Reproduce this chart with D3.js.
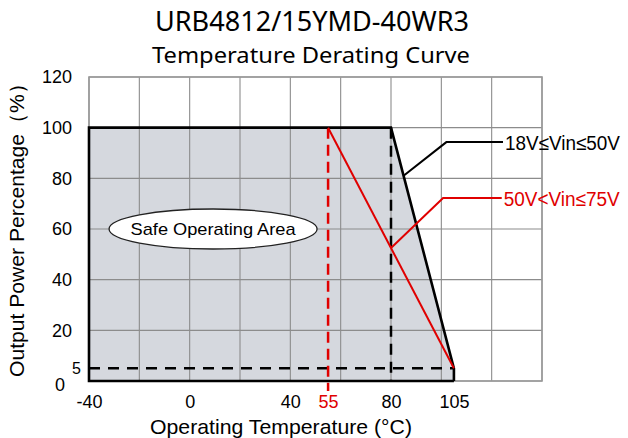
<!DOCTYPE html>
<html>
<head>
<meta charset="utf-8">
<script src="https://cdn.jsdelivr.net/npm/d3@7"></script>
<style>
  body { margin: 0; background: #fff; }
  text { font-family: "Liberation Sans", Arial, sans-serif; }
  .title { font-family: "Noto Sans", sans-serif; }
</style>
</head>
<body>
<div id="chart"></div>
<script>
// data
var titleText = "URB4812/15YMD-40WR3"
var subtitleText = "Temperature Derating Curve"
var xTicks = [-40, 0, 40, 55, 80, 105]
var yTicks = [0, 5, 20, 40, 60, 80, 100, 120]
var gridX = [-40, -20, 0, 20, 40, 60, 80, 100, 120, 140]
var gridY = [0, 20, 40, 60, 80, 100, 120]
// 18V<=Vin<=50V curve
var curveLow = [[-40, 100], [80, 100], [105, 5]]
// 50V<Vin<=75V curve
var curveHigh = [[55, 100], [105, 5]]
var safeArea = [[-40, 0], [-40, 100], [80, 100], [105, 5], [105, 0]]
var minPower = 5
var kneeLow = 80, kneeHigh = 55, maxTemp = 105
var leaderLow = [[85, 81], [102, 94.3], [124.5, 94.3]]
var leaderHigh = [[80, 52.5], [100.7, 72.2], [124, 72.2]]
var labelLow = "18V\u2264Vin\u226450V"
var labelHigh = "50V<Vin\u226475V"
var safeLabel = {t: 9.3, p: 60, text: "Safe Operating Area"}

var W = 628, H = 438
var x = d3.scaleLinear().domain([-40, 140]).range([89, 542])
var y = d3.scaleLinear().domain([0, 120]).range([381, 77])

var svg = d3.select("#chart").append("svg")
    .attr("width", W)
    .attr("height", H)

var line = d3.line().x(d => x(d[0])).y(d => y(d[1]))

// titles
svg.append("text").attr("class", "title")
  .attr("x", 312).attr("y", 31)
  .attr("text-anchor", "middle")
  .attr("font-size", 28)
  .attr("textLength", 314).attr("lengthAdjust", "spacingAndGlyphs")
  .text(titleText)
svg.append("text").attr("class", "title")
  .attr("x", 311).attr("y", 63)
  .attr("text-anchor", "middle")
  .attr("font-size", 22)
  .attr("textLength", 318).attr("lengthAdjust", "spacingAndGlyphs")
  .text(subtitleText)

// shaded safe area
svg.append("path")
  .attr("d", line(safeArea) + "Z")
  .attr("fill", "#d5d8de")

// grid
svg.selectAll(".gx").data(gridX).enter().append("line")
  .attr("class", "gx")
  .attr("x1", d => x(d)).attr("x2", d => x(d))
  .attr("y1", y(0)).attr("y2", y(120))
  .attr("stroke", "#8c8c8c").attr("stroke-width", 1.1)
svg.selectAll(".gy").data(gridY).enter().append("line")
  .attr("class", "gy")
  .attr("y1", d => y(d)).attr("y2", d => y(d))
  .attr("x1", x(-40)).attr("x2", x(140))
  .attr("stroke", "#8c8c8c").attr("stroke-width", 1.1)

// outer border
svg.append("rect")
  .attr("x", x(-40)).attr("y", y(120))
  .attr("width", x(140) - x(-40)).attr("height", y(0) - y(120))
  .attr("fill", "none").attr("stroke", "#9a9a9a").attr("stroke-width", 1.6)

// dashed reference lines
svg.append("line")
  .attr("x1", x(-40)).attr("x2", x(maxTemp))
  .attr("y1", y(minPower)).attr("y2", y(minPower))
  .attr("stroke", "#000").attr("stroke-width", 2.5)
  .attr("stroke-dasharray", "11,8")
svg.append("line")
  .attr("x1", x(kneeLow)).attr("x2", x(kneeLow))
  .attr("y1", y(100)).attr("y2", y(0))
  .attr("stroke", "#000").attr("stroke-width", 2.5)
  .attr("stroke-dasharray", "11,7")
svg.append("line")
  .attr("x1", x(kneeHigh)).attr("x2", x(kneeHigh))
  .attr("y1", y(100)).attr("y2", y(0) + 10)
  .attr("stroke", "#e00000").attr("stroke-width", 2.5)
  .attr("stroke-dasharray", "11,6")

// outline of 18-50V curve and bottom
svg.append("path")
  .attr("d", line([[105, 0], [-40, 0], [-40, 100]].concat(curveLow.slice(1)).concat([[105, 0]])))
  .attr("fill", "none").attr("stroke", "#000").attr("stroke-width", 2.6)
  .attr("stroke-linejoin", "miter")

// 50-75V curve
svg.append("path")
  .attr("d", line(curveHigh))
  .attr("fill", "none").attr("stroke", "#e00000").attr("stroke-width", 2)

// leaders
svg.append("path").attr("d", line(leaderLow))
  .attr("fill", "none").attr("stroke", "#000").attr("stroke-width", 2)
svg.append("path").attr("d", line(leaderHigh))
  .attr("fill", "none").attr("stroke", "#e00000").attr("stroke-width", 2)

svg.append("text")
  .attr("x", x(leaderLow[2][0]) + 2).attr("y", y(leaderLow[2][1]) + 8)
  .attr("font-size", 20).attr("fill", "#000")
  .attr("textLength", 115).attr("lengthAdjust", "spacingAndGlyphs")
  .attr("font-family", "Noto Sans, sans-serif")
  .text(labelLow)
svg.append("text")
  .attr("x", x(leaderHigh[2][0]) + 2).attr("y", y(leaderHigh[2][1]) + 8)
  .attr("font-size", 20).attr("fill", "#e00000")
  .attr("textLength", 116).attr("lengthAdjust", "spacingAndGlyphs")
  .attr("font-family", "Noto Sans, sans-serif")
  .text(labelHigh)

// safe operating area label
svg.append("ellipse")
  .attr("cx", x(safeLabel.t)).attr("cy", y(safeLabel.p))
  .attr("rx", 104).attr("ry", 20)
  .attr("fill", "#fff").attr("stroke", "#222").attr("stroke-width", 1.3)
svg.append("text")
  .attr("x", x(safeLabel.t)).attr("y", y(safeLabel.p) + 6)
  .attr("text-anchor", "middle")
  .attr("font-size", 17)
  .attr("textLength", 165).attr("lengthAdjust", "spacingAndGlyphs")
  .attr("font-family", "Noto Sans, sans-serif")
  .text(safeLabel.text)

// axes (labels only)
var xAxis = d3.axisBottom(x).tickValues(xTicks).tickSize(0).tickPadding(14)
  .tickFormat(d => String(d))
var gx = svg.append("g").attr("transform", "translate(0," + y(0) + ")").call(xAxis)
gx.select(".domain").remove()
gx.selectAll("text")
  .attr("font-size", 18).attr("font-family", "Liberation Sans, Arial, sans-serif")
  .attr("fill", d => d === kneeHigh ? "#e00000" : "#000")

var yAxis = d3.axisLeft(y).tickValues(yTicks).tickSize(0).tickPadding(17)
var gy = svg.append("g").attr("transform", "translate(" + x(-40) + ",0)").call(yAxis)
gy.select(".domain").remove()
gy.selectAll("text")
  .attr("font-size", d => d === 5 ? 16 : 18)
  .attr("font-family", "Liberation Sans, Arial, sans-serif")
  .attr("fill", "#000")
  .attr("dx", d => d === 5 ? 9 : d === 0 ? -7 : 0)
  .attr("dy", d => d === 0 ? "0.5em" : "0.32em")

// axis titles
svg.append("text")
  .attr("x", 281).attr("y", 434)
  .attr("text-anchor", "middle")
  .attr("font-size", 21)
  .attr("textLength", 262).attr("lengthAdjust", "spacingAndGlyphs")
  .attr("font-family", "Noto Sans, sans-serif")
  .text("Operating Temperature (\u00b0C)")
svg.append("text")
  .attr("transform", "translate(24,225) rotate(-90)")
  .attr("text-anchor", "middle")
  .attr("font-size", 21)
  .attr("textLength", 304).attr("lengthAdjust", "spacingAndGlyphs")
  .text("Output Power Percentage\uff08%\uff09")
</script>
</body>
</html>
